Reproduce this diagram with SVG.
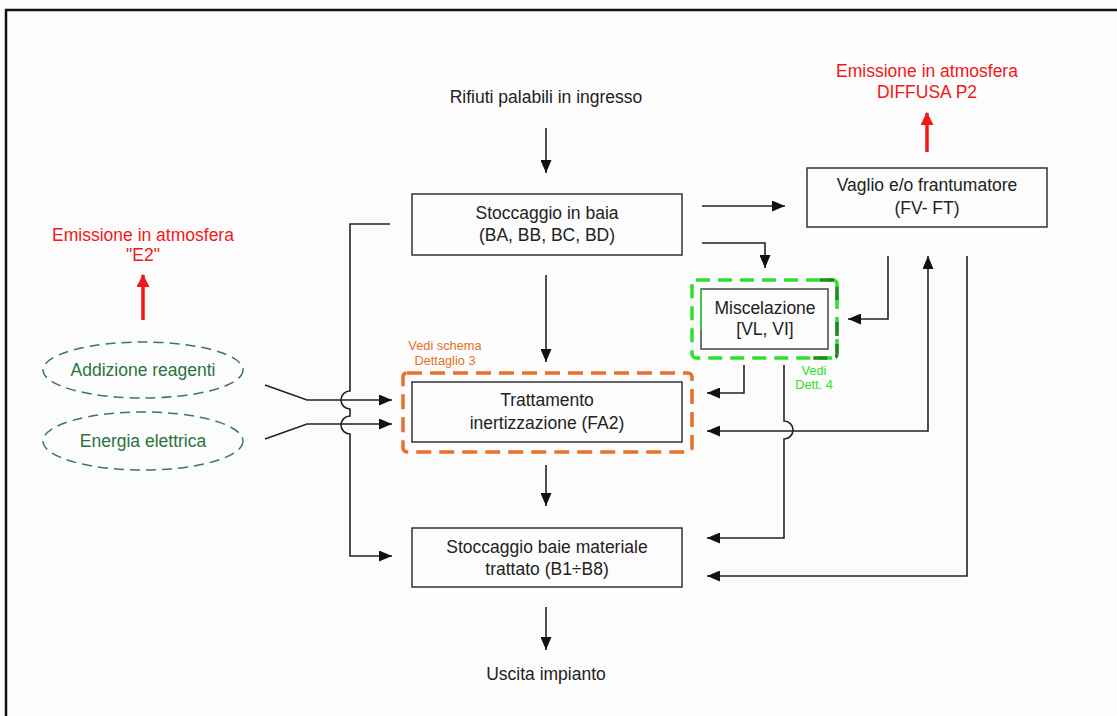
<svg xmlns="http://www.w3.org/2000/svg" width="1117" height="716" viewBox="0 0 1117 716">
  <defs>
    <style>
      .box { fill: none; stroke: #333; stroke-width: 1.5; }
      .lbl { font-family: "Liberation Sans", Arial, sans-serif; font-size: 17.5px; fill: #222; text-anchor: middle; }
      .red { fill: #f01818; }
      .grn { fill: #2a7340; }
      .note { font-size: 12.8px; }
      .conn { fill: none; stroke: #222; stroke-width: 1.6; }
      .emit { fill: none; stroke: #f01818; stroke-width: 3.5; }
      .ell { fill: none; stroke: #3d7a4c; stroke-width: 1.5; stroke-dasharray: 10 6; }
    </style>
    <marker id="ah" markerUnits="userSpaceOnUse" markerWidth="13" markerHeight="11" refX="13" refY="5.5" orient="auto-start-reverse">
      <path d="M0,0 L13,5.5 L0,11 z" fill="#111"/>
    </marker>
    <marker id="ahr" markerUnits="userSpaceOnUse" markerWidth="13" markerHeight="13" refX="12" refY="6.5" orient="auto">
      <path d="M0,0 L13,6.5 L0,13 z" fill="#f01818"/>
    </marker>
  </defs>

  <rect width="1117" height="716" fill="#fcfcfc"/>
  <!-- frame -->
  <path d="M6,716 V10 H1117" fill="none" stroke="#111" stroke-width="2.5"/>

  <!-- plant input / output labels -->
  <g id="ingresso">
    <text class="lbl" x="546" y="103">Rifiuti palabili in ingresso</text>
  </g>
  <g id="uscita">
    <text class="lbl" x="546" y="680">Uscita impianto</text>
  </g>

  <!-- atmospheric emissions -->
  <g id="emissione-p2">
    <text class="lbl red" x="927" y="77">Emissione in atmosfera</text>
    <text class="lbl red" x="927" y="98">DIFFUSA P2</text>
    <line class="emit" x1="927" y1="152" x2="927" y2="113" marker-end="url(#ahr)"/>
  </g>
  <g id="emissione-e2">
    <text class="lbl red" x="143" y="241">Emissione in atmosfera</text>
    <text class="lbl red" x="143" y="261">"E2"</text>
    <line class="emit" x1="143" y1="320" x2="143" y2="275" marker-end="url(#ahr)"/>
  </g>

  <!-- process units -->
  <g id="stoccaggio-baia">
    <rect class="box" x="412" y="194" width="270" height="61"/>
    <text class="lbl" x="547" y="219">Stoccaggio in baia</text>
    <text class="lbl" x="547" y="241">(BA, BB, BC, BD)</text>
  </g>

  <g id="vaglio">
    <rect class="box" x="807" y="168" width="240" height="59"/>
    <text class="lbl" x="927" y="191">Vaglio e/o frantumatore</text>
    <text class="lbl" x="927" y="214">(FV- FT)</text>
  </g>

  <g id="miscelazione">
    <rect x="692" y="280" width="145" height="78" rx="4" fill="none" stroke="#2ee02e" stroke-width="3.5" stroke-dasharray="14 8"/>
    <path d="M820,280 H833 Q837,280 837,284 V300 M837,322 V354 Q837,358 833,358 H812" fill="none" stroke="#1f8a1f" stroke-width="3.5" stroke-dasharray="14 8"/>
    <rect x="701" y="289" width="127" height="60" fill="none" stroke="#444" stroke-width="1.5"/>
    <path d="M701,289 V330" stroke="#2ee02e" stroke-width="1.5"/>
    <text class="lbl" x="765" y="314">Miscelazione</text>
    <text class="lbl" x="765" y="335">[VL, VI]</text>
    <text class="lbl note" x="814" y="375" style="fill:#2ee02e">Vedi</text>
    <text class="lbl note" x="814" y="389" style="fill:#2ee02e">Dett. 4</text>
  </g>

  <g id="trattamento">
    <rect x="403" y="373" width="289" height="79" rx="4" fill="none" stroke="#e8702a" stroke-width="3.5" stroke-dasharray="15 8"/>
    <rect class="box" x="412" y="382" width="270" height="60"/>
    <text class="lbl" x="547" y="406">Trattamento</text>
    <text class="lbl" x="547" y="429">inertizzazione (FA2)</text>
    <text class="lbl note" x="445" y="350" style="fill:#e8702a">Vedi schema</text>
    <text class="lbl note" x="445" y="365" style="fill:#e8702a">Dettaglio 3</text>
  </g>

  <g id="stoccaggio-trattato">
    <rect class="box" x="412" y="528" width="270" height="59"/>
    <text class="lbl" x="547" y="553">Stoccaggio baie materiale</text>
    <text class="lbl" x="547" y="575">trattato (B1÷B8)</text>
  </g>

  <!-- auxiliary inputs -->
  <g id="reagenti">
    <ellipse class="ell" cx="143" cy="370" rx="100" ry="28"/>
    <text class="lbl grn" x="143" y="376">Addizione reagenti</text>
  </g>
  <g id="energia">
    <ellipse class="ell" cx="143" cy="441" rx="100" ry="29"/>
    <text class="lbl grn" x="143" y="447">Energia elettrica</text>
  </g>

  <!-- flows -->
  <g id="connectors">
    <path class="conn" d="M546,128 V173" marker-end="url(#ah)"/>
    <path class="conn" d="M702,206 H785" marker-end="url(#ah)"/>
    <path class="conn" d="M702,243 H765 V268" marker-end="url(#ah)"/>
    <path class="conn" d="M546,275 V362" marker-end="url(#ah)"/>
    <path class="conn" d="M888,256 V319 H848" marker-end="url(#ah)"/>
    <path class="conn" d="M744,365 V393 H707" marker-end="url(#ah)"/>
    <path class="conn" d="M784,365 V421 A9,9 0 0 1 784,439 V538 H707" marker-end="url(#ah)"/>
    <path class="conn" d="M707,431 H928 V256" marker-start="url(#ah)" marker-end="url(#ah)"/>
    <path class="conn" d="M967,256 V576 H707" marker-end="url(#ah)"/>
    <path class="conn" d="M390,224 H350 V391 A9,9 0 0 0 350,409 V416 A9,9 0 0 0 350,434 V556 H392" marker-end="url(#ah)"/>
    <path class="conn" d="M265,385 L307,400 H392" marker-end="url(#ah)"/>
    <path class="conn" d="M265,439 L307,424 H392" marker-end="url(#ah)"/>
    <path class="conn" d="M546,465 V506" marker-end="url(#ah)"/>
    <path class="conn" d="M546,607 V650" marker-end="url(#ah)"/>
  </g>
</svg>
